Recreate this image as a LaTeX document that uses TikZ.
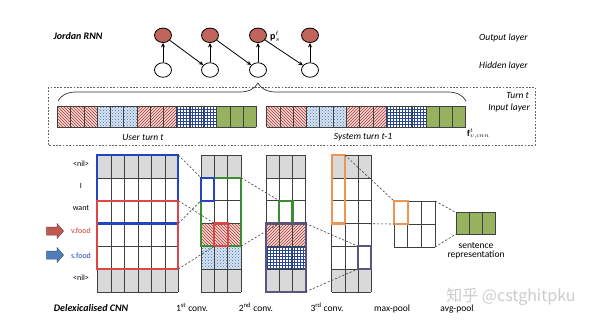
\documentclass[tikz,border=0pt]{standalone}
\usepackage{fontspec}
\setmainfont{Carlito}
\newfontfamily\cjkfont{Noto Sans CJK SC}
\usetikzlibrary{patterns,shapes.geometric,decorations.pathreplacing,arrows.meta}
\definecolor{gridc}{RGB}{64,64,64}
\definecolor{cellgray}{RGB}{217,217,217}
\definecolor{nodered}{RGB}{192,100,92}
\definecolor{hatchbg}{RGB}{244,214,210}
\definecolor{hatchln}{RGB}{170,60,55}
\definecolor{dotbg}{RGB}{214,228,242}
\definecolor{dotln}{RGB}{70,110,170}
\definecolor{gridln}{RGB}{40,70,150}
\definecolor{greenf}{RGB}{150,178,95}
\definecolor{fblue}{RGB}{35,70,190}
\definecolor{fred}{RGB}{220,70,70}
\definecolor{fgreen}{RGB}{60,140,50}
\definecolor{forange}{RGB}{235,150,85}
\definecolor{fslate}{RGB}{90,85,125}
\definecolor{arrred}{RGB}{190,90,82}
\definecolor{arrblue}{RGB}{80,125,185}
\definecolor{txtred}{RGB}{205,65,60}
\definecolor{txtblue}{RGB}{40,70,170}
\newcommand\cellgrid[6]{%
  \foreach \i in {0,...,#5} \draw[gridline] ({#1+\i*#3},#2) -- ({#1+\i*#3},{#2+#6*#4});
  \foreach \j in {0,...,#6} \draw[gridline] (#1,{#2+\j*#4}) -- ({#1+#5*#3},{#2+\j*#4});}
\newcommand\rowband[6]{\path[#6] (#1,{#2+#5*#4}) rectangle ({#1+#3},{#2+(#5+1)*#4});}
\tikzset{
  gridline/.style={draw=gridc, line width=0.6pt},
  graycell/.style={fill=cellgray},
  hatchNW/.style={preaction={fill=hatchbg}, pattern=north west lines, pattern color=hatchln},
  hatchNE/.style={preaction={fill=hatchbg}, pattern=north east lines, pattern color=hatchln},
  dotsB/.style={preaction={fill=dotbg}, pattern=crosshatch dots, pattern color=dotln},
  gridB/.style={preaction={fill=white}, pattern=grid, pattern color=gridln},
  greenF/.style={fill=greenf},
  frame/.style={draw, line width=2.2pt, inner sep=0pt, outer sep=0pt, anchor=north west},
  proj/.style={draw=black!75, dash pattern=on 2.2pt off 1.8pt, line width=0.6pt},
  outnode/.style={ellipse, draw=black, line width=0.8pt, fill=nodered, minimum width=17pt, minimum height=14.5pt, inner sep=0pt},
  hidnode/.style={ellipse, draw=black, line width=0.8pt, fill=white, minimum width=17pt, minimum height=14.5pt, inner sep=0pt},
  rnnarrow/.style={draw=black, line width=0.8pt, -{Stealth[length=4.5pt,width=4pt]}},
  lbl/.style={font=\fontsize{9.5}{11}\selectfont\itshape, inner sep=0pt},
  btitle/.style={font=\fontsize{10}{12}\selectfont\bfseries\itshape, inner sep=0pt},
  clbl/.style={font=\fontsize{8}{10}\selectfont, inner sep=0pt},
  blbl/.style={font=\fontsize{9.5}{11}\selectfont, inner sep=0pt, anchor=base},
}
\begin{document}
\begin{tikzpicture}[x=1pt,y=-1pt]
\useasboundingbox (0,0) rectangle (600,325);
\fill[white] (0,0) rectangle (600,325);

% ---------- Jordan RNN ----------
\node[btitle] (jrnn) at (78,36) {Jordan RNN};
\foreach \n/\x in {1/163,2/210,3/258,4/310} {
  \node[outnode] (o\n) at (\x,35.3) {};
  \node[hidnode] (h\n) at (\x,70) {};
}
\foreach \n in {1,...,4} \draw[rnnarrow] (h\n) -- (o\n);
\draw[rnnarrow] (o1) -- (h2);
\draw[rnnarrow] (o2) -- (h3);
\draw[rnnarrow] (o3) -- (h4);
\node[anchor=base west, inner sep=0pt] (plbl) at (270,39) {$\mathbf{p}_s^t$};
\node[lbl, anchor=west] (outl) at (479,38) {Output layer};
\node[lbl, anchor=west] (hidl) at (479,66) {Hidden layer};

% ---------- Input layer ----------
\draw[draw=black!60, dash pattern=on 1.8pt off 1.5pt, line width=0.6pt] (48,87) rectangle (535,145);
\draw[decorate, decoration={brace, amplitude=18pt, aspect=0.49}, line width=0.7pt, black!80] (58,101) -- (466,101);
% user turn
\path[hatchNW] (57.3,106) rectangle (97.1,127);
\path[dotsB] (97.1,106) rectangle (136.9,127);
\path[hatchNE] (136.9,106) rectangle (176.7,127);
\path[gridB] (176.7,106) rectangle (216.5,127);
\path[greenF] (216.5,106) rectangle (256.3,127);
\cellgrid{57.3}{106}{13.27}{21}{15}{1}
% system turn
\path[hatchNW] (266.7,106) rectangle (306.5,127);
\path[dotsB] (306.5,106) rectangle (346.3,127);
\path[hatchNE] (346.3,106) rectangle (386.1,127);
\path[gridB] (386.1,106) rectangle (425.9,127);
\path[greenF] (425.9,106) rectangle (465.7,127);
\cellgrid{266.7}{106}{13.27}{21}{15}{1}
\node[lbl] (usr) at (143,137) {User turn t};
\node[lbl] (sys) at (363,137) {System turn t-1};
\node[anchor=base west, inner sep=0pt, font=\small] (flbl) at (467,136) {$\mathbf{f}^{t}_{v,cnn}$};
\node[lbl, anchor=east] (turnl) at (529,95) {Turn t};
\node[lbl, anchor=east] (inl) at (530,108) {Input layer};

% ---------- CNN ----------
% input matrix
\rowband{97.3}{155}{81}{22.8}{0}{graycell}
\rowband{97.3}{155}{81}{22.8}{5}{graycell}
\cellgrid{97.3}{155}{13.5}{22.8}{6}{6}
% 1st conv
\rowband{201}{155}{40}{22.8}{0}{graycell}
\rowband{201}{155}{40}{22.8}{3}{hatchNW}
\rowband{201}{155}{40}{22.8}{4}{dotsB}
\rowband{201}{155}{40}{22.8}{5}{graycell}
\cellgrid{201}{155}{13.33}{22.8}{3}{6}
% 2nd conv
\rowband{266}{155}{39.6}{22.8}{0}{graycell}
\rowband{266}{155}{39.6}{22.8}{3}{hatchNE}
\rowband{266}{155}{39.6}{22.8}{4}{gridB}
\rowband{266}{155}{39.6}{22.8}{5}{graycell}
\cellgrid{266}{155}{13.2}{22.8}{3}{6}
% 3rd conv
\rowband{331.7}{155}{39.3}{22.8}{0}{graycell}
\rowband{331.7}{155}{39.3}{22.8}{5}{graycell}
\cellgrid{331.7}{155}{13.1}{22.8}{3}{6}
% max-pool
\cellgrid{394}{201}{13.7}{23}{3}{2}
\node[inner sep=0pt, outer sep=0pt, anchor=north west, minimum width=41.1pt, minimum height=46pt] (mpool) at (394,201) {};
% sentence representation
\path[greenF] (456,212.5) rectangle (495.6,234);
\cellgrid{456}{212.5}{13.2}{21.5}{3}{1}
\node[inner sep=0pt, outer sep=0pt, anchor=north west, minimum width=39.6pt, minimum height=21.5pt] (sent) at (456,212.5) {};

% frames
\node[frame, draw=fblue, minimum width=81pt, minimum height=68.4pt] (inblue) at (97.3,155) {};
\node[frame, draw=fred, minimum width=81pt, minimum height=68.4pt] (inred) at (97.3,200.6) {};
\node[frame, draw=fgreen, minimum width=40pt, minimum height=68.4pt] (cgreen) at (201,177.8) {};
\node[frame, draw=fblue, minimum width=13.33pt, minimum height=22.8pt] (cblue) at (201,177.8) {};
\node[frame, draw=fred, minimum width=13.33pt, minimum height=22.8pt] (cred) at (214.33,223.4) {};
\node[frame, draw=fgreen, minimum width=13.2pt, minimum height=22.8pt] (dgreen) at (279.2,200.6) {};
\node[frame, draw=fslate, minimum width=39.6pt, minimum height=68.4pt] (dslate) at (266,223.4) {};
\node[frame, draw=forange, minimum width=13.1pt, minimum height=68.4pt] (eorange) at (331.7,155) {};
\node[frame, draw=fslate, minimum width=13.1pt, minimum height=22.8pt] (eslate) at (357.9,246.2) {};
\node[frame, draw=forange, minimum width=13.7pt, minimum height=23pt] (morange) at (394,201) {};

% projections
\draw[proj] (inblue.north east) -- (cblue.north west);
\draw[proj] (inblue.south east) -- (cblue.south west);
\draw[proj] (inred.north east) -- (cred.north west);
\draw[proj] (inred.south east) -- (cred.south west);
\draw[proj] (cgreen.north east) -- (dgreen.north west);
\draw[proj] (cgreen.south east) -- (dgreen.south west);
\draw[proj] (dslate.north east) -- (eslate.north west);
\draw[proj] (dslate.south east) -- (eslate.south west);
\draw[proj] (eorange.north east) -- (morange.north west);
\draw[proj] (eorange.south east) -- (morange.south west);
\draw[proj] (mpool.north east) -- (sent.north west);
\draw[proj] (mpool.south east) -- (sent.south west);

% word labels
\node[clbl] (w1) at (81,164) {<nil>};
\node[clbl] (w2) at (81,186) {I};
\node[clbl] (w3) at (81,208) {want};
\node[clbl, text=txtred] (w4) at (81,231) {v.food};
\node[clbl, text=txtblue] (w5) at (81,256) {s.food};
\node[clbl] (w6) at (81,278) {<nil>};
\filldraw[fill=arrred, draw=arrred!70!black, line width=0.5pt] (46.5,227) -- (57,227) -- (57,223.5) -- (63.5,231) -- (57,238.5) -- (57,235) -- (46.5,235) -- cycle;
\filldraw[fill=arrblue, draw=arrblue!70!black, line width=0.5pt] (46.5,251) -- (57,251) -- (57,247.5) -- (63.5,255) -- (57,262.5) -- (57,259) -- (46.5,259) -- cycle;

\node[font=\fontsize{9.5}{11}\selectfont, inner sep=0pt] (srep) at (476,250.5) {\begin{tabular}{@{}c@{}}sentence\\[-2pt]representation\end{tabular}};

% bottom labels
\node[btitle, anchor=base] (dcnn) at (91,311.5) {Delexicalised CNN};
\node[blbl] (l1) at (192,311.5) {1\textsuperscript{st} conv.};
\node[blbl] (l2) at (256,311.5) {2\textsuperscript{nd} conv.};
\node[blbl] (l3) at (327,311.5) {3\textsuperscript{rd} conv.};
\node[blbl] (l4) at (392,311.5) {max-pool};
\node[blbl] (l5) at (457,311.5) {avg-pool};
\node[font=\cjkfont\fontsize{16}{18}\selectfont, text=gray!40, inner sep=0pt] (wm) at (511,297) {知乎 @cstghitpku};
\end{tikzpicture}
\end{document}
